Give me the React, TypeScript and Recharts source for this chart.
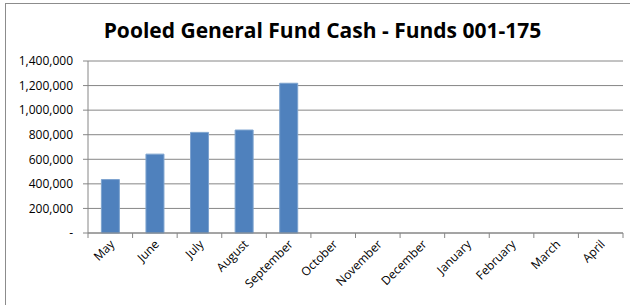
import { Bar, BarChart, CartesianGrid, XAxis, YAxis } from "recharts";

// months of the fiscal year, May through April
const months = [
  "May", "June", "July", "August", "September", "October",
  "November", "December", "January", "February", "March", "April",
];
// pooled cash balance per month (only May..September reported so far)
const cash: (number | null)[] = [
  435000, 642000, 819000, 838000, 1219000, null,
  null, null, null, null, null, null,
];
const yTicks = [0, 200000, 400000, 600000, 800000, 1000000, 1200000, 1400000];

const font = "'Open Sans', 'DejaVu Sans', sans-serif";
const axisGray = "#868686";

// Excel-style month label: rotated text plus tick mark on the category boundary
function MonthTick(props: any) {
  const { x, y, payload, index } = props;
  const off = payload?.offset ?? 0;
  const last = index === months.length - 1;
  return (
    <g>
      <line x1={x - off} x2={x - off} y1={y - 8} y2={y - 3} stroke={axisGray} />
      {last && <line x1={x + off} x2={x + off} y1={y - 8} y2={y - 3} stroke={axisGray} />}
      <text
        x={x + 5}
        y={y + 4}
        textAnchor="end"
        transform={`rotate(-45, ${x + 5}, ${y + 4})`}
        fontSize={12}
        fontFamily={font}
        fill="#000"
      >
        {payload.value}
      </text>
    </g>
  );
}

export default function App() {
  const data = months.map((month, i) => ({ month, cash: cash[i] }));
  return (
    <div style={{ position: "absolute", left: 0, top: 0, width: 630, height: 305, background: "#fff" }}>
      <div
        style={{
          position: "absolute", left: 5, top: 3, right: 0, bottom: 0,
          borderLeft: "1px solid #8c8c8c", borderTop: "1px solid #8c8c8c",
        }}
      />
      <div
        style={{
          position: "absolute", left: 0, width: 645, top: 16, textAlign: "center",
          fontFamily: font, fontWeight: 700, fontSize: 21, color: "#000",
        }}
      >
        Pooled General Fund Cash - Funds 001-175
      </div>
      <BarChart
        width={630}
        height={305}
        data={data}
        margin={{ top: 61, right: 7, bottom: 0, left: 0 }}
        barCategoryGap="30%"
        style={{ position: "absolute", left: 0, top: 0 }}
      >
        <CartesianGrid vertical={false} stroke={axisGray} strokeWidth={1} />
        <XAxis
          dataKey="month"
          interval={0}
          height={72}
          tickLine={false}
          tickSize={5}
          tickMargin={3}
          axisLine={{ stroke: axisGray }}
          tick={<MonthTick />}
        />
        <YAxis
          width={88}
          domain={[0, 1400000]}
          ticks={yTicks}
          interval={0}
          tickSize={5}
          tickMargin={10}
          axisLine={{ stroke: axisGray }}
          tickLine={{ stroke: axisGray }}
          tick={{ fontSize: 12, fontFamily: font, fill: "#000" }}
          tickFormatter={(v: number) => (v === 0 ? "-" : v.toLocaleString("en-US"))}
        />
        <Bar dataKey="cash" fill="#4F81BD" stroke="#7DA3CF" strokeWidth={1} isAnimationActive={false} />
      </BarChart>
    </div>
  );
}
